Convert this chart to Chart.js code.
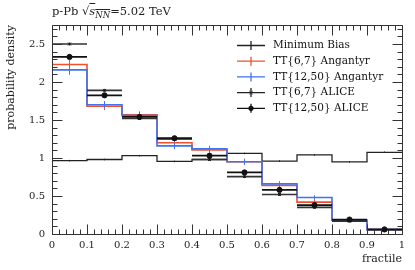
<!DOCTYPE html>
<html>
<head>
<meta charset="utf-8">
<script src="https://cdn.jsdelivr.net/npm/chart.js@4.4.0/dist/chart.umd.min.js"></script>
<style>
  html, body { margin: 0; padding: 0; background: #fff; }
  #wrap { position: relative; width: 415px; height: 270px; }
  #title { position: absolute; left: 52px; top: 4px; font: 11.5px "DejaVu Serif", serif; color: #222; white-space: nowrap; }
  #title .rad { text-decoration: overline; }
  #title i { font-style: italic; }
  #title sub { font-size: 8.5px; font-style: italic; }
</style>
</head>
<body>
<div id="wrap">
  <canvas id="chart" width="415" height="270"></canvas>
  <div id="title">p-Pb √<span class="rad"><i>s</i><sub>NN</sub></span>=5.02 TeV</div>
</div>
<script>
// fractile bins
const binEdges = [0, 0.1, 0.2, 0.3, 0.4, 0.5, 0.6, 0.7, 0.8, 0.9, 1];
const xTicks = [0, 0.1, 0.2, 0.3, 0.4, 0.5, 0.6, 0.7, 0.8, 0.9, 1];
const yTicks = [0, 0.5, 1, 1.5, 2, 2.5];

// probability density per bin
const minBias      = [0.965, 0.98, 1.03, 0.955, 0.98, 1.06, 0.96, 1.04, 0.95, 1.075];
const minBiasErr   = [0.01, 0.01, 0.01, 0.01, 0.01, 0.01, 0.01, 0.01, 0.01, 0.01];
const tt67Ang      = [2.23, 1.68, 1.57, 1.20, 1.105, 0.95, 0.64, 0.42, 0.18, 0.057];
const tt67AngErr   = [0.06, 0.05, 0.045, 0.045, 0.04, 0.04, 0.035, 0.03, 0.02, 0.01];
const tt1250Ang    = [2.16, 1.70, 1.56, 1.16, 1.12, 0.95, 0.66, 0.48, 0.18, 0.057];
const tt1250AngErr = [0.065, 0.05, 0.045, 0.044, 0.04, 0.04, 0.035, 0.03, 0.02, 0.01];
const tt67Alice    = [2.50, 1.89, 1.52, 1.25, 0.98, 0.755, 0.52, 0.35, 0.17, 0.055];
const tt67AliceErr = [0.02, 0.02, 0.02, 0.02, 0.02, 0.02, 0.02, 0.02, 0.01, 0.01];
const tt1250Alice  = [2.33, 1.825, 1.54, 1.26, 1.03, 0.81, 0.58, 0.38, 0.19, 0.06];
const tt1250AliceErr = [0.02, 0.02, 0.02, 0.02, 0.02, 0.02, 0.02, 0.02, 0.01, 0.01];

const RED = '#f0502e';
const BLUE = '#3f73f2';
const BLACK = '#111';
const FONT = '"DejaVu Serif", serif';

function centers() {
    return binEdges.slice(0, -1).map((e, i) => (e + binEdges[i + 1]) / 2);
}

// histogram outline as stepped line
function stepPoints(vals) {
    const pts = vals.map((v, i) => ({ x: binEdges[i], y: v }));
    pts.push({ x: binEdges[binEdges.length - 1], y: vals[vals.length - 1] });
    return pts;
}

// vertical error bars at bin centres, separated by gaps
function errPoints(vals, errs) {
    const c = centers();
    const pts = [];
    vals.forEach((v, i) => {
        pts.push({ x: c[i], y: v - errs[i] }, { x: c[i], y: v + errs[i] }, { x: c[i], y: null });
    });
    return pts;
}

// horizontal bin-width bars, not connected
function barPoints(vals) {
    const pts = [];
    vals.forEach((v, i) => {
        pts.push({ x: binEdges[i], y: v }, { x: binEdges[i + 1], y: v }, { x: binEdges[i + 1], y: null });
    });
    return pts;
}

function centrePoints(vals) {
    const c = centers();
    return vals.map((v, i) => ({ x: c[i], y: v }));
}

function lineDs(data, color, width, order, stepped) {
    return {
        type: 'line', data: data, borderColor: color, borderWidth: width,
        pointRadius: 0, fill: false, stepped: stepped || false, order: order, spanGaps: false
    };
}

function markerDs(data, style, radius, order) {
    return {
        type: 'scatter', data: data, showLine: false, pointStyle: style, pointRadius: radius,
        backgroundColor: BLACK, borderColor: BLACK, borderWidth: 1, order: order
    };
}

const datasets = [
    lineDs(stepPoints(minBias), '#222', 1.3, 9, 'before'),
    lineDs(errPoints(minBias, minBiasErr), '#222', 1, 9),
    lineDs(stepPoints(tt67Ang), RED, 1.6, 8, 'before'),
    lineDs(errPoints(tt67Ang, tt67AngErr), RED, 1, 8),
    lineDs(stepPoints(tt1250Ang), BLUE, 1.6, 7, 'before'),
    lineDs(errPoints(tt1250Ang, tt1250AngErr), BLUE, 1, 7),
    lineDs(barPoints(tt67Alice), '#333', 1.6, 6),
    lineDs(errPoints(tt67Alice, tt67AliceErr), '#333', 1, 6),
    markerDs(centrePoints(tt67Alice), 'crossRot', 2, 5),
    lineDs(barPoints(tt1250Alice), BLACK, 1.8, 4),
    lineDs(errPoints(tt1250Alice, tt1250AliceErr), BLACK, 1, 4),
    markerDs(centrePoints(tt1250Alice), 'circle', 2.6, 3)
];

const legendItems = [
    { label: 'Minimum Bias', color: '#222', marker: null },
    { label: 'TT{6,7} Angantyr', color: RED, marker: null },
    { label: 'TT{12,50} Angantyr', color: BLUE, marker: null },
    { label: 'TT{6,7} ALICE', color: '#222', marker: 'cross' },
    { label: 'TT{12,50} ALICE', color: BLACK, marker: 'dot' }
];

// frame with inner ticks on all four sides, plus legend
const framePlugin = {
    id: 'frame',
    afterDatasetsDraw(chart) {
        const ctx = chart.ctx;
        const a = chart.chartArea;
        const xs = chart.scales.x, ys = chart.scales.y;
        const L = Math.round(a.left) + 0.5, R = Math.round(a.right) + 0.5;
        const T = Math.round(a.top) + 0.5, B = Math.round(a.bottom) + 0.5;
        ctx.save();
        ctx.strokeStyle = '#333';
        ctx.lineWidth = 1;
        ctx.beginPath();
        ctx.rect(L, T, R - L, B - T);
        for (let k = 0; k <= 50; k++) {
            const v = k * 0.02;
            const len = k % 5 === 0 ? 10 : 5;
            const px = Math.round(xs.getPixelForValue(v)) + 0.5;
            ctx.moveTo(px, B); ctx.lineTo(px, B - len);
            ctx.moveTo(px, T); ctx.lineTo(px, T + len);
        }
        for (let k = 0; k <= 27; k++) {
            const v = k * 0.1;
            const len = k % 5 === 0 ? 10 : 5;
            const py = Math.round(ys.getPixelForValue(v)) + 0.5;
            ctx.moveTo(L, py); ctx.lineTo(L + len, py);
            ctx.moveTo(R, py); ctx.lineTo(R - len, py);
        }
        ctx.stroke();

        // legend
        ctx.font = '10.5px ' + FONT;
        ctx.textBaseline = 'middle';
        legendItems.forEach((it, i) => {
            const y = 45.5 + i * 15.7;
            const x0 = 237, x1 = 265, xc = 251;
            ctx.strokeStyle = it.color;
            ctx.lineWidth = 1.3;
            ctx.beginPath();
            ctx.moveTo(x0, y); ctx.lineTo(x1, y);
            ctx.moveTo(xc, y - 4.5); ctx.lineTo(xc, y + 4.5);
            ctx.stroke();
            if (it.marker === 'dot') {
                ctx.fillStyle = it.color;
                ctx.beginPath(); ctx.arc(xc, y, 2.6, 0, Math.PI * 2); ctx.fill();
            } else if (it.marker === 'cross') {
                ctx.lineWidth = 1;
                ctx.beginPath();
                ctx.moveTo(xc - 1.6, y - 1.6); ctx.lineTo(xc + 1.6, y + 1.6);
                ctx.moveTo(xc + 1.6, y - 1.6); ctx.lineTo(xc - 1.6, y + 1.6);
                ctx.stroke();
            }
            ctx.fillStyle = '#111';
            ctx.fillText(it.label, 273, y);
        });
        ctx.restore();
    }
};

new Chart(document.getElementById('chart'), {
    type: 'line',
    data: { datasets: datasets },
    options: {
        responsive: false,
        animation: false,
        layout: { padding: { top: 25, right: 13, left: 0, bottom: 0 } },
        plugins: { legend: { display: false }, tooltip: { enabled: false } },
        scales: {
            x: {
                type: 'linear', min: 0, max: 1,
                grid: { display: false, drawTicks: false },
                border: { display: false },
                afterBuildTicks: s => { s.ticks = xTicks.map(v => ({ value: v })); },
                afterFit: s => { s.height = 36; },
                ticks: {
                    font: { family: FONT, size: 10 }, color: '#222', padding: 5, maxRotation: 0,
                    callback: v => String(Math.round(v * 10) / 10)
                },
                title: {
                    display: true, text: 'fractile', align: 'end',
                    font: { family: FONT, size: 11 }, color: '#222', padding: { top: 0, bottom: 4 }
                }
            },
            y: {
                type: 'linear', min: 0, max: 2.75,
                grid: { display: false, drawTicks: false },
                border: { display: false },
                afterBuildTicks: s => { s.ticks = yTicks.map(v => ({ value: v })); },
                afterFit: s => { s.width = 52; },
                ticks: {
                    font: { family: FONT, size: 10 }, color: '#222', padding: 7,
                    callback: v => String(v)
                },
                title: {
                    display: true, text: 'probability density', align: 'end',
                    font: { family: FONT, size: 11 }, color: '#222', padding: { top: 5, bottom: 0 }
                }
            }
        }
    },
    plugins: [framePlugin]
});
</script>
</body>
</html>
